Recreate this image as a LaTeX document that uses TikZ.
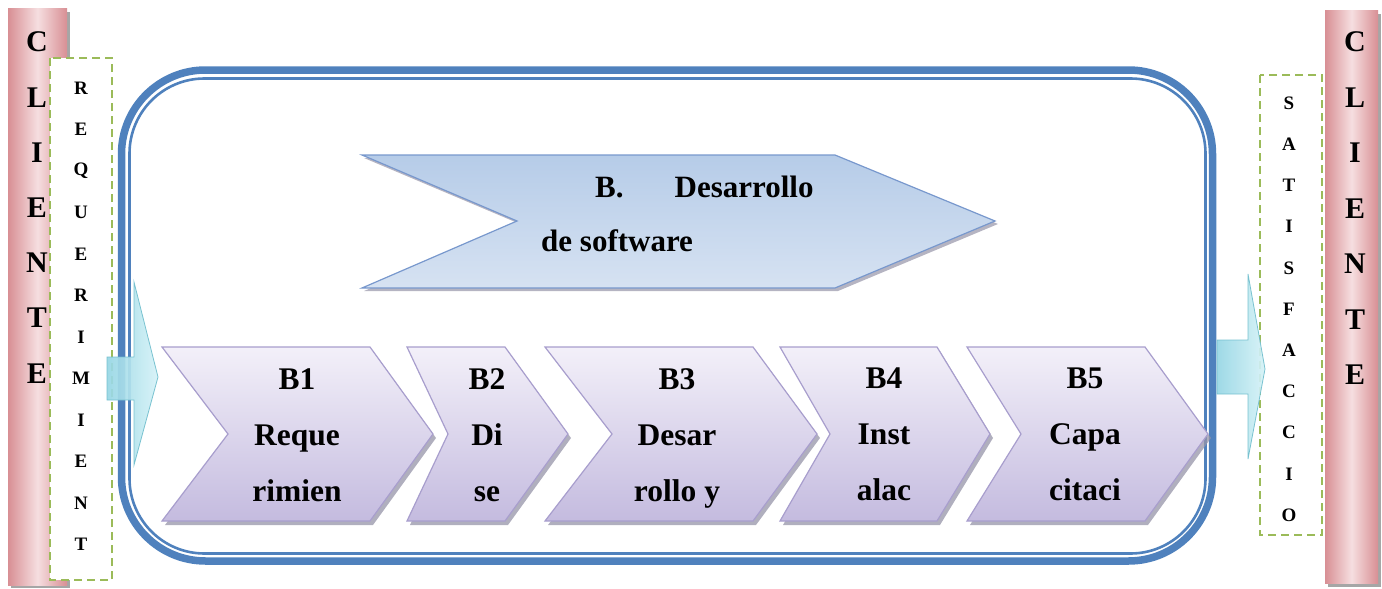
\documentclass[tikz,border=0pt]{standalone}
\usepackage{fontspec}
\setmainfont{Liberation Serif}
\definecolor{frameblue}{RGB}{79,129,189}
\definecolor{pinkd}{RGB}{216,143,148}
\definecolor{pinkl}{RGB}{246,222,224}
\definecolor{dashgreen}{RGB}{155,187,89}
\definecolor{lavtop}{RGB}{243,240,249}
\definecolor{lavbot}{RGB}{196,187,223}
\definecolor{lavline}{RGB}{168,158,205}
\definecolor{bluetop}{RGB}{182,204,232}
\definecolor{bluebot}{RGB}{214,226,242}
\definecolor{blueline}{RGB}{120,152,205}
\definecolor{cyanl}{RGB}{214,242,247}
\definecolor{cyand}{RGB}{150,214,228}
\definecolor{cyanline}{RGB}{112,190,205}
\definecolor{shadowc}{RGB}{150,148,168}
\tikzset{
  bigletter/.style={font=\fontsize{30}{30}\selectfont\bfseries, inner sep=0pt},
  smallletter/.style={font=\fontsize{19}{19}\selectfont\bfseries, inner sep=0pt},
  chevtext/.style={font=\fontsize{31.5}{56}\selectfont\bfseries, align=center, inner sep=0pt},
  titletext/.style={font=\fontsize{31}{31}\selectfont\bfseries, inner sep=0pt},
  chevfill/.style={top color=lavtop, bottom color=lavbot, draw=lavline, line width=1.2pt, line join=miter},
  chevshade/.style={fill=shadowc, opacity=0.75},
  bigfill/.style={top color=bluetop, bottom color=bluebot, draw=blueline, line width=1.2pt},
  pinkbar/.style={left color=pinkd, right color=pinkd, middle color=pinkl},
  dashbox/.style={draw=dashgreen, line width=1.8pt, dash pattern=on 8pt off 5pt, fill=white},
  flowarrow/.style={left color=cyand, right color=cyanl, draw=cyanline, line width=0.8pt, opacity=0.92},
}
\begin{document}
\begin{tikzpicture}[x=1pt,y=-1pt]
\useasboundingbox (0,0) rectangle (1382,589);

% outer double frame
\draw[frameblue, line width=7.5pt, rounded corners=84pt] (121.5,70) rectangle (1212.5,561);
\draw[frameblue, line width=2.6pt, rounded corners=75pt] (129.5,78.5) rectangle (1205.5,553.5);

% big chevron
\fill[shadowc, opacity=0.7] (364,158) -- (838,158) -- (998,224) -- (838,291) -- (364,291) -- (520,224) -- cycle;
\path[bigfill] (362,155) -- (835,155) -- (995,221) -- (835,288) -- (362,288) -- (517,221) -- cycle;
\node[titletext, anchor=base west] (btitle1) at (595,197) {B.\hspace{51pt}Desarrollo};
\node[titletext, anchor=base west] (btitle2) at (541,251) {de software};

% process chevrons
\foreach \xl/\xn/\xr/\xt/\nm/\txt/\tx in {
  162/228/370/433/b1/{B1\\Reque\\rimien\vphantom{y}}/297,
  407/448/505/568/b2/{B2\\Di\\se\vphantom{y}}/487,
  545/612/753/817/b3/{B3\\Desar\\rollo y}/677,
  780/830/937/990/b4/{B4\\Inst\\alac\vphantom{y}}/884,
  967/1021/1145/1208/b5/{B5\\Capa\\citaci\vphantom{y}}/1085}{
  \begin{scope}[shift={(3,4)}]
    \fill[chevshade] (\xl,347) -- (\xr,347) -- (\xt,434) -- (\xr,521) -- (\xl,521) -- (\xn,434) -- cycle;
  \end{scope}
  \path[chevfill] (\xl,347) -- (\xr,347) -- (\xt,434) -- (\xr,521) -- (\xl,521) -- (\xn,434) -- cycle;
  \node[chevtext] (\nm) at (\tx,438) {\txt};
}

% left client bar
\fill[black!35] (11,12) rectangle (70,588);
\path[pinkbar] (8,8) rectangle (67,585);
\foreach \l [count=\i] in {C,L,I,E,N,T,E}
  \node[bigletter] (cl\i) at (37,{42+55.2*(\i-1)}) {\l};

% requerimient box
\path[dashbox] (50,58) rectangle (112,580);
\foreach \l [count=\i] in {R,E,Q,U,E,R,I,M,I,E,N,T}
  \node[smallletter] (rq\i) at (81,{88+41.5*(\i-1)}) {\l};

% satisfaccio box
\path[dashbox] (1260,75) rectangle (1322,535);
\foreach \l [count=\i] in {S,A,T,I,S,F,A,C,C,I,O}
  \node[smallletter] (sf\i) at (1289,{103+41.2*(\i-1)}) {\l};

% right client bar
\fill[black!35] (1328,14) rectangle (1381,587);
\path[pinkbar] (1325,10) rectangle (1378,583);
\foreach \l [count=\i] in {C,L,I,E,N,T,E}
  \node[bigletter] (cr\i) at (1355,{42+55.5*(\i-1)}) {\l};

% flow arrows (drawn on top)
\path[flowarrow] (107,357) -- (134,357) -- (134,282) -- (158,377) -- (134,465) -- (134,400) -- (107,400) -- cycle;
\path[flowarrow] (1217,340) -- (1248,340) -- (1248,274) -- (1265,369) -- (1248,459) -- (1248,394) -- (1217,394) -- cycle;
\end{tikzpicture}
\end{document}
